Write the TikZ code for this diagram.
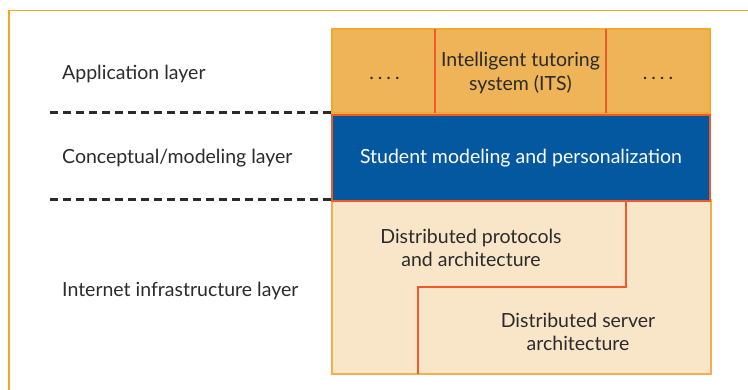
\documentclass[tikz,border=0pt]{standalone}
\usepackage{fontspec}
\setmainfont{Lato}
\definecolor{frameor}{HTML}{F4A526}
\definecolor{appfill}{HTML}{EEB457}
\definecolor{redline}{HTML}{EE5A2A}
\definecolor{bluefill}{HTML}{03589F}
\definecolor{infrafill}{HTML}{F9E6C8}
\definecolor{infraedge}{HTML}{F2B04C}
\definecolor{txt}{HTML}{2B2B2B}
\tikzset{
  lbl/.style={font=\fontsize{19.5}{23}\selectfont, text=txt, anchor=west, inner sep=0pt},
  boxtxt/.style={font=\fontsize{19.5}{23.5}\selectfont, text=txt, align=center, inner sep=0pt},
  layersep/.style={draw=txt, line width=3pt, dash pattern=on 8pt off 5pt},
}
\newcommand{\fourdots}{.\hspace{4pt}.\hspace{4pt}.\hspace{4pt}.}
\begin{document}
\begin{tikzpicture}[x=1pt,y=-1pt]
\useasboundingbox (0,0) rectangle (748,390);
% outer frame
\draw[frameor, line width=1.5pt] (9,390) -- (9,10.5) -- (748,10.5);
% application cells
\fill[appfill] (332,29) rectangle (710,113);
\draw[frameor!80!appfill, line width=1.2pt] (332,29) rectangle (710,113);
\draw[redline, line width=2.2pt] (435,29) -- (435,113);
\draw[redline, line width=2.2pt] (606,29) -- (606,113);
\node[boxtxt] (d1) at (384.5,78) {\fourdots};
\node[boxtxt] (its) at (520.5,73) {Intelligent tutoring\\system (ITS)};
\node[boxtxt] (d2) at (658,78) {\fourdots};
% infrastructure
\fill[infrafill] (332,200) rectangle (711,374);
\draw[infraedge, line width=1.2pt] (332,200) rectangle (711,374);
\draw[redline, line width=2.2pt] (626,200) -- (626,287) -- (418,287) -- (418,374);
\node[boxtxt] (proto) at (471,248) {Distributed protocols\\and architecture};
\node[boxtxt] (server) at (578,332) {Distributed server\\architecture};
% conceptual
\draw[redline, fill=bluefill, line width=2.4pt] (332,115) rectangle (710,201);
\node[boxtxt, text=white] (stud) at (521,158) {Student modeling and personalization};
% dashed separators
\draw[layersep] (50,113) -- (332,113);
\draw[layersep] (50,200) -- (332,200);
% layer labels
\node[lbl] (app) at (62,74) {Application layer};
\node[lbl] (conc) at (62,158) {Conceptual/modeling layer};
\node[lbl] (inet) at (62,291) {Internet infrastructure layer};
\end{tikzpicture}
\end{document}
